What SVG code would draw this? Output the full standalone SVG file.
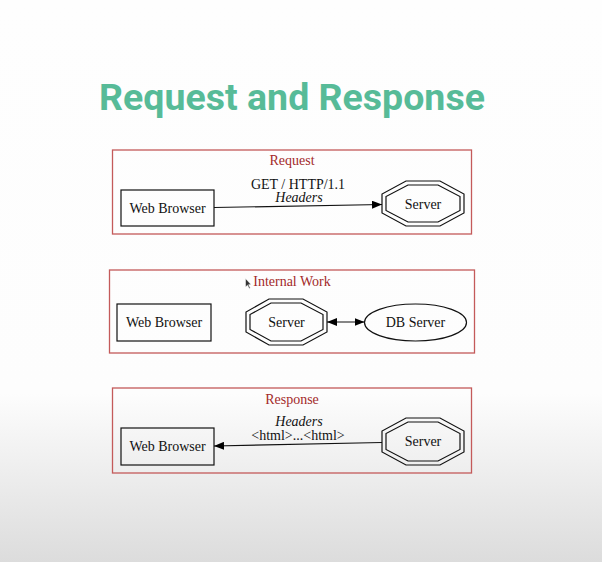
<svg xmlns="http://www.w3.org/2000/svg" width="602" height="562" viewBox="0 0 602 562">
  <defs>
    <linearGradient id="bg" x1="0" y1="0" x2="0" y2="1">
      <stop offset="0" stop-color="#fefefe"/>
      <stop offset="0.7" stop-color="#fdfdfd"/>
      <stop offset="1" stop-color="#dcdcdc"/>
    </linearGradient>
    <marker id="arrow" viewBox="0 0 10 8" refX="10" refY="4" markerWidth="10" markerHeight="8" markerUnits="userSpaceOnUse" orient="auto-start-reverse">
      <path d="M0,0 L10,4 L0,8 Z" fill="#000"/>
    </marker>
    <style>
      .title { font-family: Roboto, "Liberation Sans", sans-serif; font-weight: bold; font-size: 37.5px; fill: #57bb98; }
      .cluster { fill: none; stroke: #c45a5a; stroke-width: 1.3; }
      .clabel { font-family: "Liberation Serif", serif; font-size: 14px; fill: #a32a2a; text-anchor: middle; }
      .node { fill: none; stroke: #111; stroke-width: 1.2; }
      .ntext { font-family: "Liberation Serif", serif; font-size: 14px; fill: #111; text-anchor: middle; }
      .elabel { font-family: "Liberation Serif", serif; font-size: 14px; fill: #111; text-anchor: middle; }
      .it { font-style: italic; }
      .edge { fill: none; stroke: #111; stroke-width: 1.2; }
    </style>
  </defs>

  <rect x="0" y="0" width="602" height="562" fill="url(#bg)"/>

  <text class="title" x="292" y="110" text-anchor="middle">Request and Response</text>

  <!-- Request cluster -->
  <g id="cluster-request">
    <rect class="cluster" x="112.5" y="150" width="359" height="84"/>
    <text class="clabel" x="292" y="165">Request</text>
  </g>
  <g id="req-browser">
    <rect class="node" x="121" y="190" width="93" height="36"/>
    <text class="ntext" x="167.5" y="213">Web Browser</text>
  </g>
  <g id="req-server">
    <polygon class="node" points="406,181 440,181 464,194 464,213 440,226 406,226 382,213 382,194"/>
    <polygon class="node" points="408,185 438,185 460,196.5 460,210.5 438,222 408,222 386,210.5 386,196.5"/>
    <text class="ntext" x="423" y="208.5">Server</text>
  </g>

  <!-- Internal Work cluster -->
  <g id="cluster-internal">
    <rect class="cluster" x="109.5" y="270" width="365" height="83"/>
    <text class="clabel" x="292" y="286">Internal Work</text>
  </g>
  <g id="int-browser">
    <rect class="node" x="117" y="304" width="94" height="37"/>
    <text class="ntext" x="164" y="327">Web Browser</text>
  </g>
  <g id="int-server">
    <polygon class="node" points="269,299 303,299 327,312 327,332 303,345 269,345 246,332 246,312"/>
    <polygon class="node" points="271,303 301,303 323,314.5 323,329.5 301,341 271,341 250,329.5 250,314.5"/>
    <text class="ntext" x="286.5" y="327">Server</text>
  </g>
  <g id="int-db">
    <ellipse class="node" cx="415.5" cy="322.5" rx="51" ry="18.5"/>
    <text class="ntext" x="415.5" y="327">DB Server</text>
  </g>

  <!-- Response cluster -->
  <g id="cluster-response">
    <rect class="cluster" x="112.5" y="388" width="359" height="85"/>
    <text class="clabel" x="292" y="404">Response</text>
  </g>
  <g id="res-browser">
    <rect class="node" x="121" y="428" width="93" height="37"/>
    <text class="ntext" x="167.5" y="451">Web Browser</text>
  </g>
  <g id="res-server">
    <polygon class="node" points="406,418 440,418 464,431 464,452 440,465 406,465 382,452 382,431"/>
    <polygon class="node" points="408,422 438,422 460,433.5 460,449.5 438,461 408,461 386,449.5 386,433.5"/>
    <text class="ntext" x="423" y="446">Server</text>
  </g>

  <!-- connectors -->
  <g id="connectors">
    <path class="edge" d="M214,207.5 L382,204.5" marker-end="url(#arrow)"/>
    <text class="elabel" x="298" y="188.5">GET / HTTP/1.1</text>
    <text class="elabel it" x="299" y="202">Headers</text>

    <path class="edge" d="M327,322 L364.5,322" marker-start="url(#arrow)" marker-end="url(#arrow)"/>

    <path class="edge" d="M382,442.5 L214,446" marker-end="url(#arrow)"/>
    <text class="elabel it" x="299" y="426">Headers</text>
    <text class="elabel" x="298" y="440">&lt;html&gt;...&lt;html&gt;</text>
  </g>

  <!-- mouse pointer -->
  <polygon points="245.5,278.5 245.5,287 247.5,285.2 249.3,288.4 250.3,287.9 248.6,284.7 251,284.5" fill="#333" stroke="#fff" stroke-width="0.5"/>
</svg>
